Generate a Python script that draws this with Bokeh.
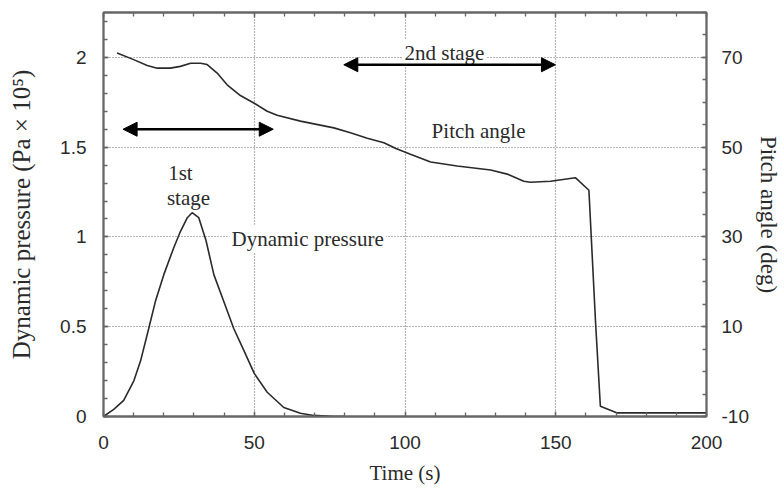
from bokeh.plotting import figure
from bokeh.models import (LinearAxis, Range1d, SingleIntervalTicker, FixedTicker,
                          Label, Arrow, NormalHead, CustomJSTickFormatter)
from bokeh.embed import file_html
from bokeh.resources import INLINE

# ---- data ----
q_time = [0, 3.4, 6.7, 10.1, 12.3, 15, 17.2, 20, 23.3, 25.5, 27.8, 29.4, 31.6, 34,
          36.6, 39.9, 43.2, 46.5, 50, 54.3, 59.8, 65.3, 69.7, 76.4, 80]
q_vals = [0, 0.04, 0.09, 0.2, 0.31, 0.49, 0.64, 0.79, 0.94, 1.03, 1.107, 1.135, 1.107, 0.98,
          0.79, 0.64, 0.49, 0.37, 0.24, 0.135, 0.05, 0.018, 0.006, 0.0, 0.0]

pitch_time = [4.5, 10, 14.5, 17.8, 22.2, 25.5, 28.9, 32.2, 34.4, 37.7, 41, 45.4, 50, 54.3,
              57.6, 65.3, 76.4, 81.9, 87.5, 93, 97, 101.8, 108.5, 117.3, 128.4, 133.9,
              139.4, 141.6, 148.3, 156.5, 161, 163.2, 164.8, 170.4, 200]
pitch_vals = [71, 69.5, 68.2, 67.6, 67.6, 68, 68.7, 68.7, 68.4, 66.5, 63.9, 61.5, 59.8, 58,
              57.1, 55.8, 54.3, 53.2, 52, 51, 49.7, 48.4, 46.7, 45.8, 44.9, 44.0,
              42.4, 42.2, 42.4, 43.2, 40.4, 11, -7.7, -9.2, -9.2]

right_ticks_major = [-10, 10, 30, 50, 70]

# annotations (time, dynamic-pressure units)
text_labels = ["1st", "stage", "Dynamic pressure", "Pitch angle", "2nd stage"]
text_x = [25.5, 28.2, 67.7, 124.4, 113.1]
text_y = [1.356, 1.217, 0.99, 1.59, 2.024]

arrow_x0 = [6.5, 79.7]
arrow_x1 = [56.3, 149.9]
arrow_y = [1.6, 1.959]

SERIF = "Liberation Serif"
SANS = "Liberation Sans"
INK = "#2a2a2a"
FRAME = "#666666"

p = figure(width=784, height=491, x_range=Range1d(0, 200), y_range=Range1d(0, 2.25),
           output_backend="svg", toolbar_location=None,
           min_border_left=103, min_border_right=78, min_border_top=12, min_border_bottom=75)
p.extra_y_ranges = {"pitch": Range1d(-10, 80)}

p.outline_line_color = FRAME
p.outline_line_width = 1.8
p.background_fill_color = "white"
p.border_fill_color = "white"

def style_axis(ax):
    ax.axis_line_color = FRAME
    ax.axis_line_width = 1.8
    ax.major_tick_in = 5
    ax.major_tick_out = 0
    ax.minor_tick_in = 4
    ax.minor_tick_out = 0
    ax.major_tick_line_color = FRAME
    ax.minor_tick_line_color = FRAME
    ax.major_tick_line_width = 1.3
    ax.minor_tick_line_width = 1.3
    ax.major_label_text_font = SANS
    ax.major_label_text_font_size = "19px"
    ax.major_label_text_color = INK
    ax.axis_label_text_font = SERIF
    ax.axis_label_text_font_style = "normal"
    ax.axis_label_text_color = INK

# bottom axis
xa = p.xaxis[0]
xa.ticker = SingleIntervalTicker(interval=50, num_minor_ticks=5)
style_axis(xa)
xa.axis_label = "Time (s)"
xa.axis_label_text_font_size = "21px"
xa.major_label_standoff = 19
xa.axis_label_standoff = 9

# left axis
ya = p.yaxis[0]
ya.ticker = SingleIntervalTicker(interval=0.5, num_minor_ticks=5)
style_axis(ya)
ya.axis_label = "Dynamic pressure (Pa × 10⁵)"
ya.axis_label_text_font_size = "25px"
ya.major_label_standoff = 17
ya.axis_label_standoff = 22

# right axis
ra = LinearAxis(y_range_name="pitch",
                ticker=FixedTicker(ticks=right_ticks_major, minor_ticks=list(range(-10, 81, 5))),
                formatter=CustomJSTickFormatter(code="return tick.toString()"))
style_axis(ra)
ra.axis_label = "Pitch angle (deg)"
ra.axis_label_text_font_size = "23px"
ra.major_label_standoff = 15
ra.axis_label_standoff = 4
p.add_layout(ra, "right")

# top axis (ticks only)
ta = LinearAxis(ticker=SingleIntervalTicker(interval=50, num_minor_ticks=5),
                formatter=CustomJSTickFormatter(code="return ''"))
style_axis(ta)
ta.major_label_standoff = 0
p.add_layout(ta, "above")

# grids
p.xgrid.ticker = FixedTicker(ticks=[50, 100, 150])
p.ygrid.ticker = FixedTicker(ticks=[0.5, 1, 1.5, 2])
for g in (p.xgrid[0], p.ygrid[0]):
    g.grid_line_color = "#6a6a6a"
    g.grid_line_dash = "1 2"
    g.grid_line_width = 1.2

# curves
p.line(q_time, q_vals, line_color=INK, line_width=1.6)
p.line(pitch_time, pitch_vals, y_range_name="pitch", line_color=INK, line_width=1.6)

# text labels
for t, x, y in zip(text_labels, text_x, text_y):
    p.add_layout(Label(x=x, y=y, text=t, text_align="center", text_baseline="middle",
                       text_font=SERIF, text_font_size="21px", text_color=INK,
                       background_fill_color="white", padding=2))

# arrows
for x0, x1, y in zip(arrow_x0, arrow_x1, arrow_y):
    p.add_layout(Arrow(start=NormalHead(size=14, fill_color="black", line_color="black"),
                       end=NormalHead(size=14, fill_color="black", line_color="black"),
                       x_start=x0, y_start=y, x_end=x1, y_end=y,
                       line_color="black", line_width=2.5))

open("out.html", "w").write(file_html(p, INLINE))
